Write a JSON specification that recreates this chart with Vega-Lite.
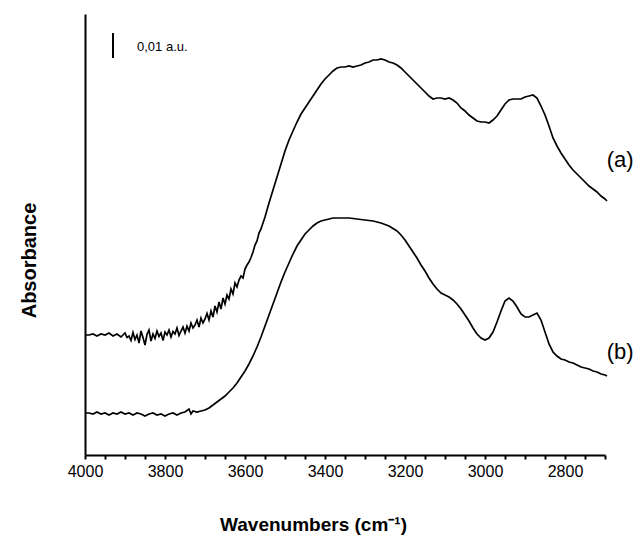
{
  "$schema": "https://vega.github.io/schema/vega-lite/v6.json",
  "width": 520,
  "height": 441,
  "autosize": {"type": "none"},
  "padding": {"left": 85, "top": 14, "right": 32, "bottom": 87},
  "background": "white",
  "config": {
    "view": {"stroke": null},
    "font": "Liberation Sans"
  },
  "datasets": {
    "spectra": [
      {"wavenumber":4000,"absorbance":0.0480,"sample":"a"},
      {"wavenumber":3990,"absorbance":0.0480,"sample":"a"},
      {"wavenumber":3980,"absorbance":0.0484,"sample":"a"},
      {"wavenumber":3970,"absorbance":0.0476,"sample":"a"},
      {"wavenumber":3960,"absorbance":0.0484,"sample":"a"},
      {"wavenumber":3950,"absorbance":0.0480,"sample":"a"},
      {"wavenumber":3940,"absorbance":0.0488,"sample":"a"},
      {"wavenumber":3930,"absorbance":0.0476,"sample":"a"},
      {"wavenumber":3920,"absorbance":0.0484,"sample":"a"},
      {"wavenumber":3910,"absorbance":0.0472,"sample":"a"},
      {"wavenumber":3900,"absorbance":0.0488,"sample":"a"},
      {"wavenumber":3895,"absorbance":0.0470,"sample":"a"},
      {"wavenumber":3890,"absorbance":0.0476,"sample":"a"},
      {"wavenumber":3885,"absorbance":0.0458,"sample":"a"},
      {"wavenumber":3880,"absorbance":0.0490,"sample":"a"},
      {"wavenumber":3875,"absorbance":0.0462,"sample":"a"},
      {"wavenumber":3870,"absorbance":0.0480,"sample":"a"},
      {"wavenumber":3865,"absorbance":0.0448,"sample":"a"},
      {"wavenumber":3860,"absorbance":0.0496,"sample":"a"},
      {"wavenumber":3855,"absorbance":0.0470,"sample":"a"},
      {"wavenumber":3850,"absorbance":0.0440,"sample":"a"},
      {"wavenumber":3845,"absorbance":0.0482,"sample":"a"},
      {"wavenumber":3840,"absorbance":0.0500,"sample":"a"},
      {"wavenumber":3835,"absorbance":0.0456,"sample":"a"},
      {"wavenumber":3830,"absorbance":0.0484,"sample":"a"},
      {"wavenumber":3825,"absorbance":0.0466,"sample":"a"},
      {"wavenumber":3820,"absorbance":0.0496,"sample":"a"},
      {"wavenumber":3815,"absorbance":0.0474,"sample":"a"},
      {"wavenumber":3810,"absorbance":0.0488,"sample":"a"},
      {"wavenumber":3805,"absorbance":0.0458,"sample":"a"},
      {"wavenumber":3800,"absorbance":0.0492,"sample":"a"},
      {"wavenumber":3795,"absorbance":0.0480,"sample":"a"},
      {"wavenumber":3790,"absorbance":0.0500,"sample":"a"},
      {"wavenumber":3785,"absorbance":0.0472,"sample":"a"},
      {"wavenumber":3780,"absorbance":0.0494,"sample":"a"},
      {"wavenumber":3775,"absorbance":0.0484,"sample":"a"},
      {"wavenumber":3770,"absorbance":0.0508,"sample":"a"},
      {"wavenumber":3765,"absorbance":0.0478,"sample":"a"},
      {"wavenumber":3760,"absorbance":0.0496,"sample":"a"},
      {"wavenumber":3755,"absorbance":0.0512,"sample":"a"},
      {"wavenumber":3750,"absorbance":0.0488,"sample":"a"},
      {"wavenumber":3745,"absorbance":0.0516,"sample":"a"},
      {"wavenumber":3740,"absorbance":0.0496,"sample":"a"},
      {"wavenumber":3735,"absorbance":0.0528,"sample":"a"},
      {"wavenumber":3730,"absorbance":0.0508,"sample":"a"},
      {"wavenumber":3725,"absorbance":0.0520,"sample":"a"},
      {"wavenumber":3720,"absorbance":0.0540,"sample":"a"},
      {"wavenumber":3715,"absorbance":0.0512,"sample":"a"},
      {"wavenumber":3710,"absorbance":0.0548,"sample":"a"},
      {"wavenumber":3705,"absorbance":0.0528,"sample":"a"},
      {"wavenumber":3700,"absorbance":0.0544,"sample":"a"},
      {"wavenumber":3695,"absorbance":0.0566,"sample":"a"},
      {"wavenumber":3690,"absorbance":0.0540,"sample":"a"},
      {"wavenumber":3685,"absorbance":0.0576,"sample":"a"},
      {"wavenumber":3680,"absorbance":0.0552,"sample":"a"},
      {"wavenumber":3675,"absorbance":0.0596,"sample":"a"},
      {"wavenumber":3670,"absorbance":0.0572,"sample":"a"},
      {"wavenumber":3665,"absorbance":0.0612,"sample":"a"},
      {"wavenumber":3660,"absorbance":0.0584,"sample":"a"},
      {"wavenumber":3655,"absorbance":0.0628,"sample":"a"},
      {"wavenumber":3650,"absorbance":0.0604,"sample":"a"},
      {"wavenumber":3645,"absorbance":0.0640,"sample":"a"},
      {"wavenumber":3640,"absorbance":0.0624,"sample":"a"},
      {"wavenumber":3635,"absorbance":0.0664,"sample":"a"},
      {"wavenumber":3630,"absorbance":0.0644,"sample":"a"},
      {"wavenumber":3625,"absorbance":0.0688,"sample":"a"},
      {"wavenumber":3620,"absorbance":0.0672,"sample":"a"},
      {"wavenumber":3615,"absorbance":0.0700,"sample":"a"},
      {"wavenumber":3610,"absorbance":0.0716,"sample":"a"},
      {"wavenumber":3605,"absorbance":0.0708,"sample":"a"},
      {"wavenumber":3600,"absorbance":0.0744,"sample":"a"},
      {"wavenumber":3595,"absorbance":0.0760,"sample":"a"},
      {"wavenumber":3590,"absorbance":0.0772,"sample":"a"},
      {"wavenumber":3585,"absorbance":0.0790,"sample":"a"},
      {"wavenumber":3580,"absorbance":0.0812,"sample":"a"},
      {"wavenumber":3575,"absorbance":0.0840,"sample":"a"},
      {"wavenumber":3570,"absorbance":0.0856,"sample":"a"},
      {"wavenumber":3565,"absorbance":0.0888,"sample":"a"},
      {"wavenumber":3560,"absorbance":0.0904,"sample":"a"},
      {"wavenumber":3550,"absorbance":0.0952,"sample":"a"},
      {"wavenumber":3540,"absorbance":0.1008,"sample":"a"},
      {"wavenumber":3530,"absorbance":0.1060,"sample":"a"},
      {"wavenumber":3520,"absorbance":0.1112,"sample":"a"},
      {"wavenumber":3510,"absorbance":0.1164,"sample":"a"},
      {"wavenumber":3500,"absorbance":0.1216,"sample":"a"},
      {"wavenumber":3490,"absorbance":0.1260,"sample":"a"},
      {"wavenumber":3480,"absorbance":0.1296,"sample":"a"},
      {"wavenumber":3470,"absorbance":0.1332,"sample":"a"},
      {"wavenumber":3460,"absorbance":0.1364,"sample":"a"},
      {"wavenumber":3450,"absorbance":0.1388,"sample":"a"},
      {"wavenumber":3440,"absorbance":0.1412,"sample":"a"},
      {"wavenumber":3430,"absorbance":0.1436,"sample":"a"},
      {"wavenumber":3420,"absorbance":0.1460,"sample":"a"},
      {"wavenumber":3410,"absorbance":0.1484,"sample":"a"},
      {"wavenumber":3400,"absorbance":0.1504,"sample":"a"},
      {"wavenumber":3390,"absorbance":0.1520,"sample":"a"},
      {"wavenumber":3380,"absorbance":0.1536,"sample":"a"},
      {"wavenumber":3370,"absorbance":0.1548,"sample":"a"},
      {"wavenumber":3360,"absorbance":0.1552,"sample":"a"},
      {"wavenumber":3350,"absorbance":0.1552,"sample":"a"},
      {"wavenumber":3340,"absorbance":0.1556,"sample":"a"},
      {"wavenumber":3330,"absorbance":0.1552,"sample":"a"},
      {"wavenumber":3320,"absorbance":0.1556,"sample":"a"},
      {"wavenumber":3310,"absorbance":0.1560,"sample":"a"},
      {"wavenumber":3300,"absorbance":0.1568,"sample":"a"},
      {"wavenumber":3290,"absorbance":0.1572,"sample":"a"},
      {"wavenumber":3280,"absorbance":0.1580,"sample":"a"},
      {"wavenumber":3270,"absorbance":0.1580,"sample":"a"},
      {"wavenumber":3260,"absorbance":0.1584,"sample":"a"},
      {"wavenumber":3250,"absorbance":0.1580,"sample":"a"},
      {"wavenumber":3240,"absorbance":0.1572,"sample":"a"},
      {"wavenumber":3230,"absorbance":0.1568,"sample":"a"},
      {"wavenumber":3220,"absorbance":0.1560,"sample":"a"},
      {"wavenumber":3210,"absorbance":0.1548,"sample":"a"},
      {"wavenumber":3200,"absorbance":0.1532,"sample":"a"},
      {"wavenumber":3190,"absorbance":0.1516,"sample":"a"},
      {"wavenumber":3180,"absorbance":0.1500,"sample":"a"},
      {"wavenumber":3170,"absorbance":0.1484,"sample":"a"},
      {"wavenumber":3160,"absorbance":0.1468,"sample":"a"},
      {"wavenumber":3150,"absorbance":0.1452,"sample":"a"},
      {"wavenumber":3140,"absorbance":0.1436,"sample":"a"},
      {"wavenumber":3130,"absorbance":0.1424,"sample":"a"},
      {"wavenumber":3120,"absorbance":0.1428,"sample":"a"},
      {"wavenumber":3110,"absorbance":0.1428,"sample":"a"},
      {"wavenumber":3100,"absorbance":0.1424,"sample":"a"},
      {"wavenumber":3090,"absorbance":0.1428,"sample":"a"},
      {"wavenumber":3080,"absorbance":0.1420,"sample":"a"},
      {"wavenumber":3070,"absorbance":0.1408,"sample":"a"},
      {"wavenumber":3060,"absorbance":0.1388,"sample":"a"},
      {"wavenumber":3050,"absorbance":0.1376,"sample":"a"},
      {"wavenumber":3040,"absorbance":0.1360,"sample":"a"},
      {"wavenumber":3030,"absorbance":0.1348,"sample":"a"},
      {"wavenumber":3020,"absorbance":0.1336,"sample":"a"},
      {"wavenumber":3010,"absorbance":0.1332,"sample":"a"},
      {"wavenumber":3000,"absorbance":0.1332,"sample":"a"},
      {"wavenumber":2990,"absorbance":0.1328,"sample":"a"},
      {"wavenumber":2980,"absorbance":0.1340,"sample":"a"},
      {"wavenumber":2970,"absorbance":0.1356,"sample":"a"},
      {"wavenumber":2960,"absorbance":0.1380,"sample":"a"},
      {"wavenumber":2950,"absorbance":0.1404,"sample":"a"},
      {"wavenumber":2940,"absorbance":0.1420,"sample":"a"},
      {"wavenumber":2930,"absorbance":0.1424,"sample":"a"},
      {"wavenumber":2920,"absorbance":0.1424,"sample":"a"},
      {"wavenumber":2910,"absorbance":0.1424,"sample":"a"},
      {"wavenumber":2900,"absorbance":0.1432,"sample":"a"},
      {"wavenumber":2890,"absorbance":0.1436,"sample":"a"},
      {"wavenumber":2880,"absorbance":0.1440,"sample":"a"},
      {"wavenumber":2870,"absorbance":0.1428,"sample":"a"},
      {"wavenumber":2860,"absorbance":0.1396,"sample":"a"},
      {"wavenumber":2850,"absorbance":0.1360,"sample":"a"},
      {"wavenumber":2840,"absorbance":0.1316,"sample":"a"},
      {"wavenumber":2830,"absorbance":0.1268,"sample":"a"},
      {"wavenumber":2820,"absorbance":0.1236,"sample":"a"},
      {"wavenumber":2810,"absorbance":0.1208,"sample":"a"},
      {"wavenumber":2800,"absorbance":0.1184,"sample":"a"},
      {"wavenumber":2790,"absorbance":0.1160,"sample":"a"},
      {"wavenumber":2780,"absorbance":0.1140,"sample":"a"},
      {"wavenumber":2770,"absorbance":0.1124,"sample":"a"},
      {"wavenumber":2760,"absorbance":0.1108,"sample":"a"},
      {"wavenumber":2750,"absorbance":0.1092,"sample":"a"},
      {"wavenumber":2740,"absorbance":0.1076,"sample":"a"},
      {"wavenumber":2730,"absorbance":0.1064,"sample":"a"},
      {"wavenumber":2720,"absorbance":0.1052,"sample":"a"},
      {"wavenumber":2710,"absorbance":0.1036,"sample":"a"},
      {"wavenumber":2700,"absorbance":0.1024,"sample":"a"},
      {"wavenumber":2695,"absorbance":0.1016,"sample":"a"},
      {"wavenumber":4000,"absorbance":0.0168,"sample":"b"},
      {"wavenumber":3990,"absorbance":0.0168,"sample":"b"},
      {"wavenumber":3980,"absorbance":0.0164,"sample":"b"},
      {"wavenumber":3970,"absorbance":0.0172,"sample":"b"},
      {"wavenumber":3960,"absorbance":0.0164,"sample":"b"},
      {"wavenumber":3950,"absorbance":0.0168,"sample":"b"},
      {"wavenumber":3940,"absorbance":0.0160,"sample":"b"},
      {"wavenumber":3930,"absorbance":0.0168,"sample":"b"},
      {"wavenumber":3920,"absorbance":0.0164,"sample":"b"},
      {"wavenumber":3910,"absorbance":0.0172,"sample":"b"},
      {"wavenumber":3900,"absorbance":0.0164,"sample":"b"},
      {"wavenumber":3890,"absorbance":0.0168,"sample":"b"},
      {"wavenumber":3880,"absorbance":0.0160,"sample":"b"},
      {"wavenumber":3870,"absorbance":0.0168,"sample":"b"},
      {"wavenumber":3860,"absorbance":0.0164,"sample":"b"},
      {"wavenumber":3850,"absorbance":0.0156,"sample":"b"},
      {"wavenumber":3840,"absorbance":0.0164,"sample":"b"},
      {"wavenumber":3830,"absorbance":0.0168,"sample":"b"},
      {"wavenumber":3820,"absorbance":0.0160,"sample":"b"},
      {"wavenumber":3810,"absorbance":0.0164,"sample":"b"},
      {"wavenumber":3800,"absorbance":0.0156,"sample":"b"},
      {"wavenumber":3790,"absorbance":0.0164,"sample":"b"},
      {"wavenumber":3780,"absorbance":0.0168,"sample":"b"},
      {"wavenumber":3770,"absorbance":0.0160,"sample":"b"},
      {"wavenumber":3760,"absorbance":0.0168,"sample":"b"},
      {"wavenumber":3750,"absorbance":0.0172,"sample":"b"},
      {"wavenumber":3740,"absorbance":0.0184,"sample":"b"},
      {"wavenumber":3735,"absorbance":0.0164,"sample":"b"},
      {"wavenumber":3730,"absorbance":0.0176,"sample":"b"},
      {"wavenumber":3720,"absorbance":0.0172,"sample":"b"},
      {"wavenumber":3710,"absorbance":0.0176,"sample":"b"},
      {"wavenumber":3700,"absorbance":0.0180,"sample":"b"},
      {"wavenumber":3690,"absorbance":0.0188,"sample":"b"},
      {"wavenumber":3680,"absorbance":0.0200,"sample":"b"},
      {"wavenumber":3670,"absorbance":0.0212,"sample":"b"},
      {"wavenumber":3660,"absorbance":0.0224,"sample":"b"},
      {"wavenumber":3650,"absorbance":0.0236,"sample":"b"},
      {"wavenumber":3640,"absorbance":0.0252,"sample":"b"},
      {"wavenumber":3630,"absorbance":0.0268,"sample":"b"},
      {"wavenumber":3620,"absorbance":0.0288,"sample":"b"},
      {"wavenumber":3610,"absorbance":0.0312,"sample":"b"},
      {"wavenumber":3600,"absorbance":0.0336,"sample":"b"},
      {"wavenumber":3590,"absorbance":0.0364,"sample":"b"},
      {"wavenumber":3580,"absorbance":0.0396,"sample":"b"},
      {"wavenumber":3570,"absorbance":0.0432,"sample":"b"},
      {"wavenumber":3560,"absorbance":0.0472,"sample":"b"},
      {"wavenumber":3550,"absorbance":0.0516,"sample":"b"},
      {"wavenumber":3540,"absorbance":0.0560,"sample":"b"},
      {"wavenumber":3530,"absorbance":0.0604,"sample":"b"},
      {"wavenumber":3520,"absorbance":0.0648,"sample":"b"},
      {"wavenumber":3510,"absorbance":0.0692,"sample":"b"},
      {"wavenumber":3500,"absorbance":0.0732,"sample":"b"},
      {"wavenumber":3490,"absorbance":0.0768,"sample":"b"},
      {"wavenumber":3480,"absorbance":0.0804,"sample":"b"},
      {"wavenumber":3470,"absorbance":0.0836,"sample":"b"},
      {"wavenumber":3460,"absorbance":0.0860,"sample":"b"},
      {"wavenumber":3450,"absorbance":0.0884,"sample":"b"},
      {"wavenumber":3440,"absorbance":0.0900,"sample":"b"},
      {"wavenumber":3430,"absorbance":0.0916,"sample":"b"},
      {"wavenumber":3420,"absorbance":0.0928,"sample":"b"},
      {"wavenumber":3410,"absorbance":0.0936,"sample":"b"},
      {"wavenumber":3400,"absorbance":0.0940,"sample":"b"},
      {"wavenumber":3380,"absorbance":0.0948,"sample":"b"},
      {"wavenumber":3360,"absorbance":0.0948,"sample":"b"},
      {"wavenumber":3340,"absorbance":0.0948,"sample":"b"},
      {"wavenumber":3320,"absorbance":0.0944,"sample":"b"},
      {"wavenumber":3300,"absorbance":0.0940,"sample":"b"},
      {"wavenumber":3280,"absorbance":0.0936,"sample":"b"},
      {"wavenumber":3260,"absorbance":0.0928,"sample":"b"},
      {"wavenumber":3240,"absorbance":0.0916,"sample":"b"},
      {"wavenumber":3220,"absorbance":0.0896,"sample":"b"},
      {"wavenumber":3210,"absorbance":0.0880,"sample":"b"},
      {"wavenumber":3200,"absorbance":0.0860,"sample":"b"},
      {"wavenumber":3190,"absorbance":0.0836,"sample":"b"},
      {"wavenumber":3180,"absorbance":0.0812,"sample":"b"},
      {"wavenumber":3170,"absorbance":0.0788,"sample":"b"},
      {"wavenumber":3160,"absorbance":0.0760,"sample":"b"},
      {"wavenumber":3150,"absorbance":0.0736,"sample":"b"},
      {"wavenumber":3140,"absorbance":0.0708,"sample":"b"},
      {"wavenumber":3130,"absorbance":0.0684,"sample":"b"},
      {"wavenumber":3120,"absorbance":0.0664,"sample":"b"},
      {"wavenumber":3110,"absorbance":0.0648,"sample":"b"},
      {"wavenumber":3100,"absorbance":0.0640,"sample":"b"},
      {"wavenumber":3090,"absorbance":0.0632,"sample":"b"},
      {"wavenumber":3080,"absorbance":0.0620,"sample":"b"},
      {"wavenumber":3070,"absorbance":0.0604,"sample":"b"},
      {"wavenumber":3060,"absorbance":0.0584,"sample":"b"},
      {"wavenumber":3050,"absorbance":0.0560,"sample":"b"},
      {"wavenumber":3040,"absorbance":0.0536,"sample":"b"},
      {"wavenumber":3030,"absorbance":0.0508,"sample":"b"},
      {"wavenumber":3020,"absorbance":0.0484,"sample":"b"},
      {"wavenumber":3010,"absorbance":0.0468,"sample":"b"},
      {"wavenumber":3000,"absorbance":0.0460,"sample":"b"},
      {"wavenumber":2990,"absorbance":0.0468,"sample":"b"},
      {"wavenumber":2980,"absorbance":0.0492,"sample":"b"},
      {"wavenumber":2970,"absorbance":0.0532,"sample":"b"},
      {"wavenumber":2960,"absorbance":0.0576,"sample":"b"},
      {"wavenumber":2950,"absorbance":0.0616,"sample":"b"},
      {"wavenumber":2940,"absorbance":0.0628,"sample":"b"},
      {"wavenumber":2930,"absorbance":0.0616,"sample":"b"},
      {"wavenumber":2920,"absorbance":0.0592,"sample":"b"},
      {"wavenumber":2910,"absorbance":0.0564,"sample":"b"},
      {"wavenumber":2900,"absorbance":0.0552,"sample":"b"},
      {"wavenumber":2890,"absorbance":0.0552,"sample":"b"},
      {"wavenumber":2880,"absorbance":0.0560,"sample":"b"},
      {"wavenumber":2870,"absorbance":0.0568,"sample":"b"},
      {"wavenumber":2860,"absorbance":0.0540,"sample":"b"},
      {"wavenumber":2850,"absorbance":0.0492,"sample":"b"},
      {"wavenumber":2840,"absorbance":0.0444,"sample":"b"},
      {"wavenumber":2830,"absorbance":0.0412,"sample":"b"},
      {"wavenumber":2820,"absorbance":0.0396,"sample":"b"},
      {"wavenumber":2810,"absorbance":0.0384,"sample":"b"},
      {"wavenumber":2800,"absorbance":0.0380,"sample":"b"},
      {"wavenumber":2790,"absorbance":0.0372,"sample":"b"},
      {"wavenumber":2780,"absorbance":0.0368,"sample":"b"},
      {"wavenumber":2770,"absorbance":0.0360,"sample":"b"},
      {"wavenumber":2760,"absorbance":0.0352,"sample":"b"},
      {"wavenumber":2750,"absorbance":0.0348,"sample":"b"},
      {"wavenumber":2740,"absorbance":0.0344,"sample":"b"},
      {"wavenumber":2730,"absorbance":0.0336,"sample":"b"},
      {"wavenumber":2720,"absorbance":0.0332,"sample":"b"},
      {"wavenumber":2710,"absorbance":0.0324,"sample":"b"},
      {"wavenumber":2700,"absorbance":0.0320,"sample":"b"},
      {"wavenumber":2695,"absorbance":0.0316,"sample":"b"}
    ]
  },
  "layer": [
    {
      "data": {"name": "spectra"},
      "mark": {"type": "line", "color": "black", "strokeWidth": 1.7, "clip": false},
      "encoding": {
        "x": {
          "field": "wavenumber", "type": "quantitative",
          "scale": {"domain": [2700, 4000], "reverse": true, "nice": false, "zero": false},
          "axis": {
            "values": [4000,3950,3900,3850,3800,3750,3700,3650,3600,3550,3500,3450,3400,3350,3300,3250,3200,3150,3100,3050,3000,2950,2900,2850,2800,2750,2700],
            "tickCount": 30,
            "ticks": true,
            "labelExpr": "datum.value % 200 === 0 ? datum.label : ''",
            "format": "d",
            "labelOverlap": false, "labelFlush": false, "labelBound": false,
            "grid": false,
            "domainColor": "black", "domainWidth": 2,
            "tickColor": "#000000", "tickOpacity": 1, "tickWidth": 2, "tickSize": 4,
            "labelFont": "Liberation Sans", "labelFontSize": 16, "labelColor": "black", "labelPadding": 4,
            "title": "Wavenumbers (cm⁻¹)",
            "titleFont": "Liberation Sans", "titleFontSize": 19, "titleFontWeight": "bold", "titleColor": "black",
            "titleX": 228, "titleY": 69, "titleAlign": "center", "titleBaseline": "middle"
          }
        },
        "y": {
          "field": "absorbance", "type": "quantitative",
          "scale": {"domain": [0, 0.1764], "nice": false, "zero": false},
          "axis": {
            "ticks": false, "labels": false, "grid": false,
            "domainColor": "black", "domainWidth": 2,
            "title": "Absorbance",
            "titleFont": "Liberation Sans", "titleFontSize": 20, "titleFontWeight": "bold", "titleColor": "black",
            "titleAngle": -90, "titleX": -56, "titleY": 246, "titleAlign": "center", "titleBaseline": "middle"
          }
        },
        "detail": {"field": "sample", "type": "nominal"}
      }
    },
    {
      "data": {"values": [{"wavenumber": 3930, "low": 0.1588, "high": 0.1688}]},
      "mark": {"type": "rule", "color": "black", "strokeWidth": 2},
      "encoding": {
        "x": {"field": "wavenumber", "type": "quantitative"},
        "y": {"field": "low", "type": "quantitative"},
        "y2": {"field": "high"}
      }
    },
    {
      "data": {"values": [{"wavenumber": 3870, "absorbance": 0.1632, "label": "0,01 a.u."}]},
      "mark": {"type": "text", "align": "left", "baseline": "middle", "font": "Liberation Sans", "fontSize": 13, "color": "black"},
      "encoding": {
        "x": {"field": "wavenumber", "type": "quantitative"},
        "y": {"field": "absorbance", "type": "quantitative"},
        "text": {"field": "label"}
      }
    },
    {
      "data": {"values": [{"wavenumber": 2662, "absorbance": 0.118, "label": "(a)"}, {"wavenumber": 2662, "absorbance": 0.0412, "label": "(b)"}]},
      "mark": {"type": "text", "align": "center", "baseline": "middle", "font": "Liberation Sans", "fontSize": 22, "color": "black", "clip": false},
      "encoding": {
        "x": {"field": "wavenumber", "type": "quantitative"},
        "y": {"field": "absorbance", "type": "quantitative"},
        "text": {"field": "label"}
      }
    }
  ]
}
